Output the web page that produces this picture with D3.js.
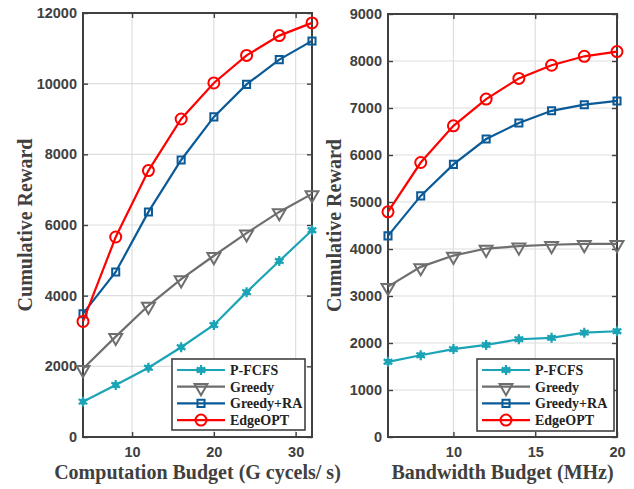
<!DOCTYPE html>
<html>
<head>
<meta charset="utf-8">
<script src="https://cdn.jsdelivr.net/npm/d3@7"></script>
<style>
  html, body { margin: 0; padding: 0; background: #fff; }
  svg { display: block; }
</style>
</head>
<body>
<svg id="chart" width="634" height="489"></svg>
<script>
// Series names shared by both panels
const seriesNames = ["P-FCFS", "Greedy", "Greedy+RA", "EdgeOPT"];
const seriesColors = ["#1ba4b6", "#6e6e6e", "#0a5a98", "#ff0000"];
const seriesMarkers = ["star", "triDown", "square", "circle"];

// Left panel: computation budget (G cycles/s)
const compBudget = [4, 8, 12, 16, 20, 24, 28, 32];
const compPFCFS   = [1000, 1470, 1960, 2540, 3170, 4100, 4980, 5850];
const compGreedy  = [1930, 2840, 3720, 4470, 5130, 5770, 6370, 6880];
const compGreedyRA = [3490, 4670, 6370, 7840, 9060, 9980, 10680, 11210];
const compEdgeOPT = [3270, 5660, 7540, 9000, 10020, 10800, 11360, 11720];
const compXTicks = [10, 20, 30];
const compYTicks = [0, 2000, 4000, 6000, 8000, 10000, 12000];

// Right panel: bandwidth budget (MHz)
const bwBudget = [6, 8, 10, 12, 14, 16, 18, 20];
const bwPFCFS   = [1600, 1740, 1870, 1960, 2080, 2110, 2220, 2250];
const bwGreedy  = [3200, 3620, 3860, 4010, 4060, 4090, 4110, 4110];
const bwGreedyRA = [4280, 5130, 5800, 6340, 6680, 6940, 7070, 7150];
const bwEdgeOPT = [4790, 5840, 6620, 7190, 7630, 7910, 8100, 8200];
const bwXTicks = [10, 15, 20];
const bwYTicks = [0, 1000, 2000, 3000, 4000, 5000, 6000, 7000, 8000, 9000];

const svg = d3.select("#chart");
const axisColor = "#404040";
const gridColor = "#dedede";

function markerPath(type) {
  switch (type) {
    case "star": return d3.symbol(d3.symbolAsterisk, 70)();
    case "triDown": return d3.symbol(d3.symbolTriangle, 72)();
    case "square": return d3.symbol(d3.symbolSquare, 50)();
    default: return d3.symbol(d3.symbolCircle, 95)();
  }
}

function drawMarker(g, type, color, x, y) {
  if (type === "star") {
    g.append("path").attr("d", markerPath("star"))
      .attr("transform", `translate(${x},${y})`)
      .attr("fill", "none").attr("stroke", color).attr("stroke-width", 2.2);
    g.append("circle").attr("cx", x).attr("cy", y).attr("r", 3.2).attr("fill", color);
  } else if (type === "triDown") {
    g.append("path").attr("d", markerPath("triDown"))
      .attr("transform", `translate(${x},${y + 1}) rotate(180)`)
      .attr("fill", "none").attr("stroke", color).attr("stroke-width", 2);
  } else {
    g.append("path").attr("d", markerPath(type))
      .attr("transform", `translate(${x},${y})`)
      .attr("fill", "none").attr("stroke", color).attr("stroke-width", 2);
  }
}

function panel(opts) {
  const { left, top, width, height, xDomain, yDomain, xTicks, yTicks, xs, series, xLabel, yLabelX, legend } = opts;
  const x = d3.scaleLinear().domain(xDomain).range([left, left + width]);
  const y = d3.scaleLinear().domain(yDomain).range([top + height, top]);
  const g = svg.append("g");

  // grid
  g.append("g").selectAll("line").data(xTicks).join("line")
    .attr("x1", d => x(d)).attr("x2", d => x(d)).attr("y1", top).attr("y2", top + height)
    .attr("stroke", gridColor).attr("stroke-width", 1.2);
  g.append("g").selectAll("line").data(yTicks).join("line")
    .attr("x1", left).attr("x2", left + width).attr("y1", d => y(d)).attr("y2", d => y(d))
    .attr("stroke", gridColor).attr("stroke-width", 1.2);

  // axes with inward ticks on all four sides
  const tickLen = 5;
  const fmt = d3.format("d");
  const bottomAxis = d3.axisBottom(x).tickValues(xTicks).tickFormat(fmt).tickSizeInner(-tickLen).tickSizeOuter(0).tickPadding(10);
  const leftAxis = d3.axisLeft(y).tickValues(yTicks).tickFormat(fmt).tickSizeInner(-tickLen).tickSizeOuter(0).tickPadding(6);
  const topAxis = d3.axisTop(x).tickValues(xTicks).tickSizeInner(-tickLen).tickSizeOuter(0).tickFormat("");
  const rightAxis = d3.axisRight(y).tickValues(yTicks).tickSizeInner(-tickLen).tickSizeOuter(0).tickFormat("");

  const styleAxis = sel => {
    sel.selectAll("path").remove();
    sel.selectAll("line").attr("stroke", axisColor).attr("stroke-width", 1.4);
    sel.selectAll("text").attr("fill", axisColor)
      .style("font-family", "'Liberation Sans', Arial, sans-serif")
      .style("font-weight", "bold").style("font-size", "14.5px");
  };
  g.append("g").attr("transform", `translate(0,${top + height})`).call(bottomAxis).call(styleAxis);
  g.append("g").attr("transform", `translate(${left},0)`).call(leftAxis).call(styleAxis);
  g.append("g").attr("transform", `translate(0,${top})`).call(topAxis).call(styleAxis);
  g.append("g").attr("transform", `translate(${left + width},0)`).call(rightAxis).call(styleAxis);

  // frame
  g.append("rect").attr("x", left).attr("y", top).attr("width", width).attr("height", height)
    .attr("fill", "none").attr("stroke", axisColor).attr("stroke-width", 2);

  // series lines and markers
  const line = d3.line().x((d, i) => x(xs[i])).y(d => y(d));
  series.forEach((vals, si) => {
    g.append("path").datum(vals).attr("d", line)
      .attr("fill", "none").attr("stroke", seriesColors[si]).attr("stroke-width", 2.2);
    vals.forEach((v, i) => drawMarker(g, seriesMarkers[si], seriesColors[si], x(xs[i]), y(v)));
  });

  // axis titles
  g.append("text").attr("x", left + width / 2).attr("y", top + height + 42)
    .attr("text-anchor", "middle").attr("fill", axisColor)
    .style("font-family", "'Liberation Serif', 'Times New Roman', serif")
    .style("font-weight", "bold").style("font-size", "20px").text(xLabel);
  g.append("text").attr("transform", `translate(${yLabelX},${top + height / 2}) rotate(-90)`)
    .attr("text-anchor", "middle").attr("fill", axisColor)
    .style("font-family", "'Liberation Serif', 'Times New Roman', serif")
    .style("font-weight", "bold").style("font-size", "20px").text("Cumulative Reward");

  // legend
  const lg = g.append("g");
  lg.append("rect").attr("x", legend.x).attr("y", legend.y).attr("width", legend.w).attr("height", legend.h)
    .attr("fill", "#fff").attr("stroke", axisColor).attr("stroke-width", 1.6);
  seriesNames.forEach((name, si) => {
    const cy = legend.y + 11 + si * 16.7;
    const x0 = legend.x + 5, x1 = legend.x + 53;
    lg.append("line").attr("x1", x0).attr("x2", x1).attr("y1", cy).attr("y2", cy)
      .attr("stroke", seriesColors[si]).attr("stroke-width", 2.2);
    drawMarker(lg, seriesMarkers[si], seriesColors[si], (x0 + x1) / 2, cy);
    lg.append("text").attr("x", x1 + 5).attr("y", cy + 5).attr("fill", "#222")
      .style("font-family", "'Liberation Serif', 'Times New Roman', serif")
      .style("font-weight", "bold").style("font-size", "14px").text(name);
  });
}

panel({
  left: 83, top: 13, width: 229, height: 424,
  xDomain: [4, 32], yDomain: [0, 12000],
  xTicks: compXTicks, yTicks: compYTicks, xs: compBudget,
  series: [compPFCFS, compGreedy, compGreedyRA, compEdgeOPT],
  xLabel: "Computation Budget (G cycels/ s)", yLabelX: 32,
  legend: { x: 172, y: 359, w: 133, h: 71 }
});

panel({
  left: 388, top: 14, width: 229, height: 423,
  xDomain: [6, 20], yDomain: [0, 9000],
  xTicks: bwXTicks, yTicks: bwYTicks, xs: bwBudget,
  series: [bwPFCFS, bwGreedy, bwGreedyRA, bwEdgeOPT],
  xLabel: "Bandwidth Budget (MHz)", yLabelX: 341,
  legend: { x: 477, y: 359, w: 137, h: 72 }
});
</script>
</body>
</html>
